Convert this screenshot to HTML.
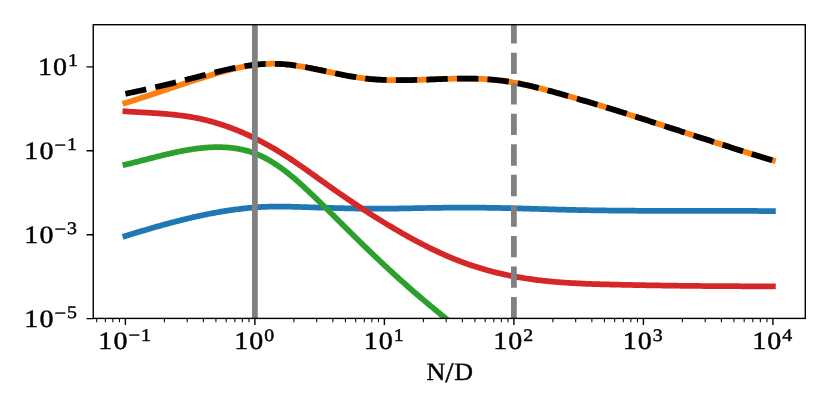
<!DOCTYPE html>
<html><head><meta charset="utf-8"><title>plot</title>
<style>html,body{margin:0;padding:0;background:#fff}svg{display:block}</style></head>
<body>
<svg width="830" height="415" viewBox="0 0 830 415">
<rect width="830" height="415" fill="#fff"/>
<defs><clipPath id="ax"><rect x="93.25" y="24.7" width="712.05" height="293.7"/></clipPath></defs>
<g clip-path="url(#ax)" fill="none" stroke-linejoin="round">
<path d="M125.40,236.08 L127.02,235.58 L128.65,235.07 L130.27,234.57 L131.89,234.07 L133.51,233.57 L135.14,233.08 L136.76,232.58 L138.38,232.09 L140.01,231.60 L141.63,231.11 L143.25,230.63 L144.87,230.15 L146.50,229.67 L148.12,229.19 L149.74,228.71 L151.36,228.24 L152.99,227.77 L154.61,227.30 L156.23,226.84 L157.86,226.38 L159.48,225.92 L161.10,225.47 L162.72,225.01 L164.35,224.57 L165.97,224.12 L167.59,223.68 L169.22,223.24 L170.84,222.81 L172.46,222.38 L174.08,221.95 L175.71,221.53 L177.33,221.11 L178.95,220.70 L180.58,220.29 L182.20,219.89 L183.82,219.48 L185.44,219.09 L187.07,218.70 L188.69,218.31 L190.31,217.93 L191.94,217.55 L193.56,217.17 L195.18,216.81 L196.80,216.44 L198.43,216.09 L200.05,215.73 L201.67,215.38 L203.29,215.04 L204.92,214.71 L206.54,214.37 L208.16,214.05 L209.79,213.73 L211.41,213.41 L213.03,213.10 L214.65,212.80 L216.28,212.51 L217.90,212.22 L219.52,211.93 L221.15,211.65 L222.77,211.38 L224.39,211.12 L226.01,210.86 L227.64,210.60 L229.26,210.36 L230.88,210.12 L232.51,209.89 L234.13,209.66 L235.75,209.45 L237.37,209.23 L239.00,209.03 L240.62,208.83 L242.24,208.65 L243.86,208.46 L245.49,208.29 L247.11,208.12 L248.73,207.97 L250.36,207.82 L251.98,207.67 L253.60,207.54 L255.22,207.41 L256.85,207.29 L258.47,207.18 L260.09,207.08 L261.72,206.99 L263.34,206.91 L264.96,206.83 L266.58,206.76 L268.21,206.71 L269.83,206.66 L271.45,206.62 L273.08,206.58 L274.70,206.56 L276.32,206.55 L277.94,206.54 L279.57,206.54 L281.19,206.55 L282.81,206.57 L284.44,206.59 L286.06,206.61 L287.68,206.64 L289.30,206.68 L290.93,206.72 L292.55,206.76 L294.17,206.80 L295.79,206.85 L297.42,206.90 L299.04,206.95 L300.66,207.00 L302.29,207.05 L303.91,207.10 L305.53,207.15 L307.15,207.20 L308.78,207.25 L310.40,207.30 L312.02,207.35 L313.65,207.40 L315.27,207.46 L316.89,207.51 L318.51,207.56 L320.14,207.61 L321.76,207.66 L323.38,207.71 L325.01,207.75 L326.63,207.80 L328.25,207.85 L329.87,207.90 L331.50,207.94 L333.12,207.99 L334.74,208.03 L336.36,208.08 L337.99,208.12 L339.61,208.16 L341.23,208.20 L342.86,208.24 L344.48,208.28 L346.10,208.32 L347.72,208.35 L349.35,208.39 L350.97,208.42 L352.59,208.45 L354.22,208.48 L355.84,208.51 L357.46,208.54 L359.08,208.56 L360.71,208.58 L362.33,208.60 L363.95,208.62 L365.58,208.64 L367.20,208.66 L368.82,208.67 L370.44,208.68 L372.07,208.69 L373.69,208.69 L375.31,208.70 L376.94,208.70 L378.56,208.70 L380.18,208.70 L381.80,208.69 L383.43,208.68 L385.05,208.67 L386.67,208.66 L388.29,208.64 L389.92,208.63 L391.54,208.61 L393.16,208.59 L394.79,208.57 L396.41,208.54 L398.03,208.52 L399.65,208.49 L401.28,208.46 L402.90,208.44 L404.52,208.41 L406.15,208.38 L407.77,208.35 L409.39,208.31 L411.01,208.28 L412.64,208.25 L414.26,208.22 L415.88,208.19 L417.51,208.15 L419.13,208.12 L420.75,208.09 L422.37,208.06 L424.00,208.03 L425.62,208.00 L427.24,207.97 L428.86,207.94 L430.49,207.92 L432.11,207.89 L433.73,207.86 L435.36,207.84 L436.98,207.82 L438.60,207.80 L440.22,207.78 L441.85,207.76 L443.47,207.74 L445.09,207.72 L446.72,207.71 L448.34,207.69 L449.96,207.68 L451.58,207.67 L453.21,207.66 L454.83,207.65 L456.45,207.64 L458.08,207.63 L459.70,207.63 L461.32,207.63 L462.94,207.62 L464.57,207.62 L466.19,207.62 L467.81,207.62 L469.44,207.63 L471.06,207.63 L472.68,207.64 L474.30,207.65 L475.93,207.65 L477.55,207.66 L479.17,207.68 L480.79,207.69 L482.42,207.71 L484.04,207.72 L485.66,207.74 L487.29,207.76 L488.91,207.78 L490.53,207.80 L492.15,207.83 L493.78,207.85 L495.40,207.88 L497.02,207.91 L498.65,207.94 L500.27,207.97 L501.89,208.01 L503.51,208.04 L505.14,208.08 L506.76,208.11 L508.38,208.15 L510.01,208.19 L511.63,208.23 L513.25,208.27 L514.87,208.31 L516.50,208.35 L518.12,208.40 L519.74,208.44 L521.36,208.48 L522.99,208.53 L524.61,208.57 L526.23,208.62 L527.86,208.67 L529.48,208.71 L531.10,208.76 L532.72,208.81 L534.35,208.86 L535.97,208.90 L537.59,208.95 L539.22,209.00 L540.84,209.05 L542.46,209.09 L544.08,209.14 L545.71,209.19 L547.33,209.24 L548.95,209.28 L550.58,209.33 L552.20,209.38 L553.82,209.42 L555.44,209.47 L557.07,209.52 L558.69,209.56 L560.31,209.60 L561.94,209.65 L563.56,209.69 L565.18,209.73 L566.80,209.77 L568.43,209.81 L570.05,209.85 L571.67,209.89 L573.29,209.93 L574.92,209.96 L576.54,210.00 L578.16,210.03 L579.79,210.07 L581.41,210.10 L583.03,210.13 L584.65,210.16 L586.28,210.19 L587.90,210.22 L589.52,210.25 L591.15,210.28 L592.77,210.30 L594.39,210.33 L596.01,210.35 L597.64,210.38 L599.26,210.40 L600.88,210.42 L602.51,210.44 L604.13,210.46 L605.75,210.49 L607.37,210.50 L609.00,210.52 L610.62,210.54 L612.24,210.56 L613.86,210.58 L615.49,210.59 L617.11,210.61 L618.73,210.62 L620.36,210.64 L621.98,210.65 L623.60,210.67 L625.22,210.68 L626.85,210.69 L628.47,210.70 L630.09,210.71 L631.72,210.72 L633.34,210.73 L634.96,210.74 L636.58,210.75 L638.21,210.76 L639.83,210.77 L641.45,210.78 L643.08,210.78 L644.70,210.79 L646.32,210.80 L647.94,210.80 L649.57,210.81 L651.19,210.81 L652.81,210.82 L654.44,210.82 L656.06,210.83 L657.68,210.83 L659.30,210.84 L660.93,210.84 L662.55,210.84 L664.17,210.85 L665.79,210.85 L667.42,210.85 L669.04,210.85 L670.66,210.85 L672.29,210.86 L673.91,210.86 L675.53,210.86 L677.15,210.86 L678.78,210.86 L680.40,210.86 L682.02,210.86 L683.65,210.86 L685.27,210.86 L686.89,210.86 L688.51,210.87 L690.14,210.87 L691.76,210.87 L693.38,210.87 L695.01,210.87 L696.63,210.87 L698.25,210.87 L699.87,210.87 L701.50,210.87 L703.12,210.87 L704.74,210.87 L706.36,210.87 L707.99,210.87 L709.61,210.87 L711.23,210.87 L712.86,210.87 L714.48,210.87 L716.10,210.87 L717.72,210.88 L719.35,210.88 L720.97,210.88 L722.59,210.88 L724.22,210.88 L725.84,210.88 L727.46,210.89 L729.08,210.89 L730.71,210.89 L732.33,210.90 L733.95,210.90 L735.58,210.90 L737.20,210.91 L738.82,210.91 L740.44,210.92 L742.07,210.92 L743.69,210.93 L745.31,210.93 L746.94,210.94 L748.56,210.95 L750.18,210.95 L751.80,210.96 L753.43,210.97 L755.05,210.98 L756.67,210.99 L758.29,211.00 L759.92,211.01 L761.54,211.02 L763.16,211.03 L764.79,211.04 L766.41,211.05 L768.03,211.06 L769.65,211.08 L771.28,211.09 L772.90,211.10" stroke="#1f77b4" stroke-width="5.75" stroke-linecap="square"/>
<path d="M125.40,102.96 L127.02,102.46 L128.65,101.95 L130.27,101.45 L131.89,100.94 L133.51,100.43 L135.14,99.91 L136.76,99.39 L138.38,98.87 L140.01,98.34 L141.63,97.82 L143.25,97.29 L144.87,96.76 L146.50,96.22 L148.12,95.69 L149.74,95.15 L151.36,94.61 L152.99,94.07 L154.61,93.53 L156.23,92.99 L157.86,92.44 L159.48,91.90 L161.10,91.36 L162.72,90.81 L164.35,90.26 L165.97,89.72 L167.59,89.17 L169.22,88.62 L170.84,88.08 L172.46,87.53 L174.08,86.99 L175.71,86.44 L177.33,85.90 L178.95,85.36 L180.58,84.82 L182.20,84.28 L183.82,83.74 L185.44,83.20 L187.07,82.66 L188.69,82.13 L190.31,81.60 L191.94,81.07 L193.56,80.54 L195.18,80.02 L196.80,79.50 L198.43,78.98 L200.05,78.46 L201.67,77.95 L203.29,77.44 L204.92,76.93 L206.54,76.43 L208.16,75.93 L209.79,75.44 L211.41,74.95 L213.03,74.46 L214.65,73.98 L216.28,73.50 L217.90,73.03 L219.52,72.57 L221.15,72.11 L222.77,71.66 L224.39,71.21 L226.01,70.78 L227.64,70.35 L229.26,69.94 L230.88,69.53 L232.51,69.13 L234.13,68.74 L235.75,68.37 L237.37,68.00 L239.00,67.65 L240.62,67.31 L242.24,66.98 L243.86,66.66 L245.49,66.36 L247.11,66.07 L248.73,65.80 L250.36,65.54 L251.98,65.29 L253.60,65.07 L255.22,64.86 L256.85,64.66 L258.47,64.48 L260.09,64.32 L261.72,64.18 L263.34,64.06 L264.96,63.95 L266.58,63.87 L268.21,63.80 L269.83,63.76 L271.45,63.73 L273.08,63.73 L274.70,63.75 L276.32,63.78 L277.94,63.84 L279.57,63.92 L281.19,64.01 L282.81,64.12 L284.44,64.25 L286.06,64.39 L287.68,64.55 L289.30,64.73 L290.93,64.92 L292.55,65.12 L294.17,65.33 L295.79,65.56 L297.42,65.80 L299.04,66.05 L300.66,66.32 L302.29,66.59 L303.91,66.87 L305.53,67.16 L307.15,67.46 L308.78,67.77 L310.40,68.08 L312.02,68.40 L313.65,68.73 L315.27,69.06 L316.89,69.39 L318.51,69.73 L320.14,70.08 L321.76,70.42 L323.38,70.77 L325.01,71.12 L326.63,71.47 L328.25,71.82 L329.87,72.17 L331.50,72.52 L333.12,72.86 L334.74,73.21 L336.36,73.55 L337.99,73.89 L339.61,74.22 L341.23,74.55 L342.86,74.88 L344.48,75.20 L346.10,75.51 L347.72,75.81 L349.35,76.11 L350.97,76.40 L352.59,76.68 L354.22,76.95 L355.84,77.21 L357.46,77.46 L359.08,77.70 L360.71,77.93 L362.33,78.14 L363.95,78.34 L365.58,78.53 L367.20,78.71 L368.82,78.87 L370.44,79.03 L372.07,79.17 L373.69,79.30 L375.31,79.42 L376.94,79.54 L378.56,79.64 L380.18,79.73 L381.80,79.81 L383.43,79.89 L385.05,79.95 L386.67,80.01 L388.29,80.06 L389.92,80.10 L391.54,80.14 L393.16,80.16 L394.79,80.18 L396.41,80.20 L398.03,80.20 L399.65,80.20 L401.28,80.20 L402.90,80.19 L404.52,80.17 L406.15,80.15 L407.77,80.13 L409.39,80.10 L411.01,80.06 L412.64,80.03 L414.26,79.98 L415.88,79.94 L417.51,79.89 L419.13,79.84 L420.75,79.79 L422.37,79.74 L424.00,79.68 L425.62,79.62 L427.24,79.57 L428.86,79.51 L430.49,79.45 L432.11,79.39 L433.73,79.33 L435.36,79.27 L436.98,79.21 L438.60,79.15 L440.22,79.09 L441.85,79.04 L443.47,78.98 L445.09,78.93 L446.72,78.88 L448.34,78.83 L449.96,78.79 L451.58,78.75 L453.21,78.71 L454.83,78.68 L456.45,78.65 L458.08,78.63 L459.70,78.61 L461.32,78.59 L462.94,78.58 L464.57,78.58 L466.19,78.58 L467.81,78.59 L469.44,78.60 L471.06,78.62 L472.68,78.65 L474.30,78.69 L475.93,78.73 L477.55,78.78 L479.17,78.84 L480.79,78.91 L482.42,78.99 L484.04,79.07 L485.66,79.17 L487.29,79.28 L488.91,79.39 L490.53,79.52 L492.15,79.65 L493.78,79.80 L495.40,79.96 L497.02,80.13 L498.65,80.31 L500.27,80.50 L501.89,80.71 L503.51,80.93 L505.14,81.16 L506.76,81.40 L508.38,81.65 L510.01,81.91 L511.63,82.18 L513.25,82.46 L514.87,82.76 L516.50,83.06 L518.12,83.37 L519.74,83.69 L521.36,84.02 L522.99,84.36 L524.61,84.70 L526.23,85.06 L527.86,85.42 L529.48,85.79 L531.10,86.16 L532.72,86.55 L534.35,86.94 L535.97,87.33 L537.59,87.73 L539.22,88.14 L540.84,88.55 L542.46,88.97 L544.08,89.39 L545.71,89.82 L547.33,90.25 L548.95,90.69 L550.58,91.13 L552.20,91.57 L553.82,92.02 L555.44,92.47 L557.07,92.92 L558.69,93.37 L560.31,93.83 L561.94,94.29 L563.56,94.75 L565.18,95.21 L566.80,95.67 L568.43,96.14 L570.05,96.60 L571.67,97.07 L573.29,97.54 L574.92,98.02 L576.54,98.49 L578.16,98.96 L579.79,99.44 L581.41,99.92 L583.03,100.40 L584.65,100.88 L586.28,101.37 L587.90,101.85 L589.52,102.34 L591.15,102.82 L592.77,103.31 L594.39,103.80 L596.01,104.30 L597.64,104.79 L599.26,105.28 L600.88,105.78 L602.51,106.28 L604.13,106.77 L605.75,107.27 L607.37,107.77 L609.00,108.28 L610.62,108.78 L612.24,109.28 L613.86,109.79 L615.49,110.29 L617.11,110.80 L618.73,111.31 L620.36,111.82 L621.98,112.33 L623.60,112.84 L625.22,113.35 L626.85,113.86 L628.47,114.38 L630.09,114.89 L631.72,115.41 L633.34,115.92 L634.96,116.44 L636.58,116.96 L638.21,117.48 L639.83,117.99 L641.45,118.51 L643.08,119.03 L644.70,119.55 L646.32,120.08 L647.94,120.60 L649.57,121.12 L651.19,121.64 L652.81,122.17 L654.44,122.69 L656.06,123.22 L657.68,123.74 L659.30,124.27 L660.93,124.79 L662.55,125.32 L664.17,125.84 L665.79,126.37 L667.42,126.90 L669.04,127.42 L670.66,127.95 L672.29,128.48 L673.91,129.00 L675.53,129.53 L677.15,130.06 L678.78,130.59 L680.40,131.12 L682.02,131.64 L683.65,132.17 L685.27,132.70 L686.89,133.23 L688.51,133.76 L690.14,134.28 L691.76,134.81 L693.38,135.34 L695.01,135.87 L696.63,136.39 L698.25,136.92 L699.87,137.45 L701.50,137.97 L703.12,138.50 L704.74,139.02 L706.36,139.55 L707.99,140.07 L709.61,140.60 L711.23,141.12 L712.86,141.65 L714.48,142.17 L716.10,142.69 L717.72,143.22 L719.35,143.74 L720.97,144.26 L722.59,144.78 L724.22,145.30 L725.84,145.82 L727.46,146.34 L729.08,146.86 L730.71,147.37 L732.33,147.89 L733.95,148.41 L735.58,148.92 L737.20,149.44 L738.82,149.95 L740.44,150.46 L742.07,150.97 L743.69,151.49 L745.31,152.00 L746.94,152.50 L748.56,153.01 L750.18,153.52 L751.80,154.03 L753.43,154.53 L755.05,155.03 L756.67,155.54 L758.29,156.04 L759.92,156.54 L761.54,157.04 L763.16,157.54 L764.79,158.03 L766.41,158.53 L768.03,159.02 L769.65,159.52 L771.28,160.01 L772.90,160.50" stroke="#ff7f0e" stroke-width="5.75" stroke-linecap="square"/>
<path d="M125.40,164.61 L126.26,164.41 L127.13,164.20 L127.99,164.00 L128.85,163.79 L129.72,163.59 L130.58,163.38 L131.45,163.17 L132.31,162.96 L133.17,162.74 L134.04,162.53 L134.90,162.32 L135.76,162.10 L136.63,161.88 L137.49,161.67 L138.35,161.45 L139.22,161.23 L140.08,161.01 L140.95,160.79 L141.81,160.57 L142.67,160.35 L143.54,160.13 L144.40,159.91 L145.26,159.69 L146.13,159.47 L146.99,159.25 L147.86,159.03 L148.72,158.80 L149.58,158.58 L150.45,158.36 L151.31,158.14 L152.17,157.92 L153.04,157.70 L153.90,157.48 L154.76,157.26 L155.63,157.05 L156.49,156.83 L157.36,156.61 L158.22,156.40 L159.08,156.18 L159.95,155.97 L160.81,155.75 L161.67,155.54 L162.54,155.33 L163.40,155.12 L164.26,154.91 L165.13,154.70 L165.99,154.50 L166.86,154.29 L167.72,154.09 L168.58,153.89 L169.45,153.69 L170.31,153.49 L171.17,153.30 L172.04,153.10 L172.90,152.91 L173.76,152.72 L174.63,152.53 L175.49,152.34 L176.36,152.16 L177.22,151.98 L178.08,151.80 L178.95,151.62 L179.81,151.45 L180.67,151.27 L181.54,151.10 L182.40,150.94 L183.27,150.77 L184.13,150.61 L184.99,150.45 L185.86,150.30 L186.72,150.14 L187.58,149.99 L188.45,149.85 L189.31,149.70 L190.17,149.56 L191.04,149.42 L191.90,149.29 L192.77,149.16 L193.63,149.03 L194.49,148.91 L195.36,148.79 L196.22,148.67 L197.08,148.56 L197.95,148.45 L198.81,148.35 L199.67,148.25 L200.54,148.15 L201.40,148.06 L202.27,147.97 L203.13,147.88 L203.99,147.80 L204.86,147.73 L205.72,147.66 L206.58,147.59 L207.45,147.53 L208.31,147.47 L209.17,147.42 L210.04,147.37 L210.90,147.32 L211.77,147.28 L212.63,147.25 L213.49,147.22 L214.36,147.20 L215.22,147.18 L216.08,147.17 L216.95,147.16 L217.81,147.15 L218.68,147.16 L219.54,147.16 L220.40,147.18 L221.27,147.20 L222.13,147.22 L222.99,147.25 L223.86,147.29 L224.72,147.33 L225.58,147.38 L226.45,147.43 L227.31,147.49 L228.18,147.56 L229.04,147.63 L229.90,147.71 L230.77,147.79 L231.63,147.89 L232.49,147.99 L233.36,148.09 L234.22,148.21 L235.08,148.33 L235.95,148.46 L236.81,148.59 L237.68,148.74 L238.54,148.89 L239.40,149.05 L240.27,149.21 L241.13,149.39 L241.99,149.57 L242.86,149.76 L243.72,149.97 L244.58,150.18 L245.45,150.39 L246.31,150.62 L247.18,150.86 L248.04,151.10 L248.90,151.36 L249.77,151.62 L250.63,151.90 L251.49,152.18 L252.36,152.47 L253.22,152.78 L254.09,153.09 L254.95,153.42 L255.81,153.75 L256.68,154.10 L257.54,154.45 L258.40,154.82 L259.27,155.19 L260.13,155.58 L260.99,155.98 L261.86,156.39 L262.72,156.81 L263.59,157.24 L264.45,157.68 L265.31,158.13 L266.18,158.59 L267.04,159.06 L267.90,159.53 L268.77,160.02 L269.63,160.52 L270.49,161.03 L271.36,161.55 L272.22,162.08 L273.09,162.61 L273.95,163.16 L274.81,163.71 L275.68,164.28 L276.54,164.85 L277.40,165.43 L278.27,166.02 L279.13,166.62 L279.99,167.23 L280.86,167.84 L281.72,168.47 L282.59,169.10 L283.45,169.74 L284.31,170.39 L285.18,171.05 L286.04,171.71 L286.90,172.38 L287.77,173.06 L288.63,173.75 L289.50,174.45 L290.36,175.15 L291.22,175.86 L292.09,176.58 L292.95,177.30 L293.81,178.03 L294.68,178.77 L295.54,179.51 L296.40,180.26 L297.27,181.01 L298.13,181.78 L299.00,182.54 L299.86,183.31 L300.72,184.09 L301.59,184.87 L302.45,185.66 L303.31,186.45 L304.18,187.24 L305.04,188.04 L305.90,188.84 L306.77,189.64 L307.63,190.45 L308.50,191.26 L309.36,192.08 L310.22,192.90 L311.09,193.72 L311.95,194.54 L312.81,195.36 L313.68,196.19 L314.54,197.02 L315.41,197.85 L316.27,198.68 L317.13,199.52 L318.00,200.35 L318.86,201.19 L319.72,202.03 L320.59,202.88 L321.45,203.72 L322.31,204.56 L323.18,205.41 L324.04,206.26 L324.91,207.11 L325.77,207.96 L326.63,208.81 L327.50,209.66 L328.36,210.52 L329.22,211.37 L330.09,212.23 L330.95,213.08 L331.81,213.94 L332.68,214.80 L333.54,215.65 L334.41,216.51 L335.27,217.37 L336.13,218.23 L337.00,219.09 L337.86,219.95 L338.72,220.81 L339.59,221.67 L340.45,222.53 L341.31,223.39 L342.18,224.25 L343.04,225.11 L343.91,225.96 L344.77,226.82 L345.63,227.68 L346.50,228.54 L347.36,229.39 L348.22,230.25 L349.09,231.11 L349.95,231.96 L350.82,232.81 L351.68,233.67 L352.54,234.52 L353.41,235.37 L354.27,236.22 L355.13,237.07 L356.00,237.92 L356.86,238.76 L357.72,239.61 L358.59,240.46 L359.45,241.30 L360.32,242.14 L361.18,242.99 L362.04,243.83 L362.91,244.67 L363.77,245.51 L364.63,246.34 L365.50,247.18 L366.36,248.02 L367.22,248.85 L368.09,249.69 L368.95,250.52 L369.82,251.35 L370.68,252.18 L371.54,253.01 L372.41,253.84 L373.27,254.66 L374.13,255.49 L375.00,256.31 L375.86,257.13 L376.72,257.96 L377.59,258.78 L378.45,259.59 L379.32,260.41 L380.18,261.23 L381.04,262.04 L381.91,262.85 L382.77,263.67 L383.63,264.48 L384.50,265.28 L385.36,266.09 L386.23,266.90 L387.09,267.70 L387.95,268.50 L388.82,269.31 L389.68,270.11 L390.54,270.90 L391.41,271.70 L392.27,272.49 L393.13,273.29 L394.00,274.08 L394.86,274.87 L395.73,275.66 L396.59,276.44 L397.45,277.23 L398.32,278.01 L399.18,278.79 L400.04,279.57 L400.91,280.35 L401.77,281.13 L402.63,281.90 L403.50,282.67 L404.36,283.44 L405.23,284.21 L406.09,284.98 L406.95,285.75 L407.82,286.51 L408.68,287.27 L409.54,288.03 L410.41,288.79 L411.27,289.54 L412.13,290.30 L413.00,291.05 L413.86,291.80 L414.73,292.54 L415.59,293.29 L416.45,294.03 L417.32,294.77 L418.18,295.51 L419.04,296.25 L419.91,296.99 L420.77,297.72 L421.64,298.45 L422.50,299.19 L423.36,299.91 L424.23,300.64 L425.09,301.37 L425.95,302.09 L426.82,302.82 L427.68,303.54 L428.54,304.26 L429.41,304.98 L430.27,305.69 L431.14,306.41 L432.00,307.13 L432.86,307.84 L433.73,308.55 L434.59,309.26 L435.45,309.97 L436.32,310.68 L437.18,311.39 L438.04,312.10 L438.91,312.80 L439.77,313.51 L440.64,314.21 L441.50,314.92 L442.36,315.62 L443.23,316.32 L444.09,317.03 L444.95,317.73 L445.82,318.43 L446.68,319.13 L447.54,319.83 L448.41,320.52 L449.27,321.22 L450.14,321.92 L451.00,322.62 L451.86,323.32 L452.73,324.01 L453.59,324.71 L454.45,325.41 L455.32,326.10 L456.18,326.80 L457.05,327.49 L457.91,328.19 L458.77,328.89 L459.64,329.58 L460.50,330.28 L461.36,330.97 L462.23,331.67 L463.09,332.37 L463.95,333.06 L464.82,333.76 L465.68,334.46 L466.55,335.15 L467.41,335.85 L468.27,336.55 L469.14,337.25 L470.00,337.95" stroke="#2ca02c" stroke-width="5.75" stroke-linecap="square"/>
<path d="M125.40,111.32 L127.02,111.44 L128.65,111.55 L130.27,111.65 L131.89,111.76 L133.51,111.86 L135.14,111.96 L136.76,112.06 L138.38,112.15 L140.01,112.25 L141.63,112.34 L143.25,112.44 L144.87,112.53 L146.50,112.63 L148.12,112.72 L149.74,112.82 L151.36,112.92 L152.99,113.02 L154.61,113.13 L156.23,113.23 L157.86,113.34 L159.48,113.46 L161.10,113.58 L162.72,113.70 L164.35,113.83 L165.97,113.96 L167.59,114.10 L169.22,114.25 L170.84,114.40 L172.46,114.56 L174.08,114.73 L175.71,114.90 L177.33,115.09 L178.95,115.28 L180.58,115.48 L182.20,115.69 L183.82,115.91 L185.44,116.15 L187.07,116.39 L188.69,116.64 L190.31,116.91 L191.94,117.18 L193.56,117.47 L195.18,117.77 L196.80,118.09 L198.43,118.42 L200.05,118.76 L201.67,119.12 L203.29,119.49 L204.92,119.87 L206.54,120.27 L208.16,120.68 L209.79,121.11 L211.41,121.55 L213.03,122.00 L214.65,122.46 L216.28,122.94 L217.90,123.44 L219.52,123.95 L221.15,124.47 L222.77,125.00 L224.39,125.55 L226.01,126.11 L227.64,126.68 L229.26,127.27 L230.88,127.87 L232.51,128.49 L234.13,129.11 L235.75,129.76 L237.37,130.41 L239.00,131.08 L240.62,131.76 L242.24,132.45 L243.86,133.16 L245.49,133.88 L247.11,134.61 L248.73,135.36 L250.36,136.12 L251.98,136.89 L253.60,137.67 L255.22,138.47 L256.85,139.28 L258.47,140.11 L260.09,140.94 L261.72,141.79 L263.34,142.66 L264.96,143.53 L266.58,144.42 L268.21,145.32 L269.83,146.23 L271.45,147.16 L273.08,148.10 L274.70,149.05 L276.32,150.01 L277.94,150.99 L279.57,151.97 L281.19,152.98 L282.81,153.99 L284.44,155.01 L286.06,156.05 L287.68,157.10 L289.30,158.16 L290.93,159.24 L292.55,160.32 L294.17,161.41 L295.79,162.51 L297.42,163.62 L299.04,164.74 L300.66,165.86 L302.29,166.99 L303.91,168.13 L305.53,169.27 L307.15,170.42 L308.78,171.57 L310.40,172.73 L312.02,173.89 L313.65,175.05 L315.27,176.21 L316.89,177.38 L318.51,178.54 L320.14,179.70 L321.76,180.87 L323.38,182.03 L325.01,183.19 L326.63,184.35 L328.25,185.51 L329.87,186.66 L331.50,187.81 L333.12,188.95 L334.74,190.09 L336.36,191.23 L337.99,192.36 L339.61,193.49 L341.23,194.61 L342.86,195.73 L344.48,196.84 L346.10,197.95 L347.72,199.06 L349.35,200.16 L350.97,201.25 L352.59,202.35 L354.22,203.43 L355.84,204.51 L357.46,205.59 L359.08,206.66 L360.71,207.73 L362.33,208.79 L363.95,209.85 L365.58,210.90 L367.20,211.95 L368.82,212.99 L370.44,214.03 L372.07,215.06 L373.69,216.09 L375.31,217.11 L376.94,218.12 L378.56,219.13 L380.18,220.14 L381.80,221.14 L383.43,222.13 L385.05,223.12 L386.67,224.11 L388.29,225.09 L389.92,226.06 L391.54,227.03 L393.16,227.99 L394.79,228.94 L396.41,229.89 L398.03,230.84 L399.65,231.77 L401.28,232.71 L402.90,233.63 L404.52,234.55 L406.15,235.47 L407.77,236.37 L409.39,237.27 L411.01,238.17 L412.64,239.05 L414.26,239.93 L415.88,240.80 L417.51,241.67 L419.13,242.52 L420.75,243.37 L422.37,244.22 L424.00,245.05 L425.62,245.87 L427.24,246.69 L428.86,247.50 L430.49,248.30 L432.11,249.10 L433.73,249.88 L435.36,250.65 L436.98,251.42 L438.60,252.18 L440.22,252.93 L441.85,253.66 L443.47,254.39 L445.09,255.11 L446.72,255.82 L448.34,256.52 L449.96,257.21 L451.58,257.89 L453.21,258.56 L454.83,259.22 L456.45,259.87 L458.08,260.51 L459.70,261.14 L461.32,261.76 L462.94,262.36 L464.57,262.96 L466.19,263.54 L467.81,264.12 L469.44,264.68 L471.06,265.23 L472.68,265.78 L474.30,266.31 L475.93,266.83 L477.55,267.34 L479.17,267.85 L480.79,268.34 L482.42,268.82 L484.04,269.29 L485.66,269.76 L487.29,270.21 L488.91,270.66 L490.53,271.09 L492.15,271.52 L493.78,271.93 L495.40,272.34 L497.02,272.74 L498.65,273.13 L500.27,273.51 L501.89,273.88 L503.51,274.24 L505.14,274.60 L506.76,274.95 L508.38,275.28 L510.01,275.61 L511.63,275.94 L513.25,276.25 L514.87,276.55 L516.50,276.85 L518.12,277.14 L519.74,277.42 L521.36,277.70 L522.99,277.96 L524.61,278.22 L526.23,278.47 L527.86,278.72 L529.48,278.96 L531.10,279.19 L532.72,279.41 L534.35,279.63 L535.97,279.84 L537.59,280.04 L539.22,280.24 L540.84,280.43 L542.46,280.62 L544.08,280.80 L545.71,280.97 L547.33,281.14 L548.95,281.30 L550.58,281.46 L552.20,281.61 L553.82,281.76 L555.44,281.90 L557.07,282.04 L558.69,282.17 L560.31,282.29 L561.94,282.42 L563.56,282.53 L565.18,282.65 L566.80,282.75 L568.43,282.86 L570.05,282.96 L571.67,283.06 L573.29,283.15 L574.92,283.24 L576.54,283.32 L578.16,283.41 L579.79,283.49 L581.41,283.56 L583.03,283.64 L584.65,283.71 L586.28,283.77 L587.90,283.84 L589.52,283.90 L591.15,283.96 L592.77,284.01 L594.39,284.07 L596.01,284.12 L597.64,284.17 L599.26,284.22 L600.88,284.27 L602.51,284.32 L604.13,284.36 L605.75,284.40 L607.37,284.44 L609.00,284.48 L610.62,284.52 L612.24,284.56 L613.86,284.60 L615.49,284.64 L617.11,284.67 L618.73,284.71 L620.36,284.75 L621.98,284.78 L623.60,284.82 L625.22,284.85 L626.85,284.89 L628.47,284.92 L630.09,284.95 L631.72,284.99 L633.34,285.02 L634.96,285.05 L636.58,285.08 L638.21,285.11 L639.83,285.14 L641.45,285.17 L643.08,285.20 L644.70,285.23 L646.32,285.26 L647.94,285.29 L649.57,285.32 L651.19,285.35 L652.81,285.37 L654.44,285.40 L656.06,285.43 L657.68,285.45 L659.30,285.48 L660.93,285.50 L662.55,285.53 L664.17,285.55 L665.79,285.58 L667.42,285.60 L669.04,285.62 L670.66,285.65 L672.29,285.67 L673.91,285.69 L675.53,285.71 L677.15,285.73 L678.78,285.75 L680.40,285.78 L682.02,285.79 L683.65,285.81 L685.27,285.83 L686.89,285.85 L688.51,285.87 L690.14,285.89 L691.76,285.91 L693.38,285.92 L695.01,285.94 L696.63,285.96 L698.25,285.97 L699.87,285.99 L701.50,286.00 L703.12,286.02 L704.74,286.03 L706.36,286.05 L707.99,286.06 L709.61,286.07 L711.23,286.09 L712.86,286.10 L714.48,286.11 L716.10,286.12 L717.72,286.13 L719.35,286.14 L720.97,286.15 L722.59,286.16 L724.22,286.17 L725.84,286.18 L727.46,286.19 L729.08,286.20 L730.71,286.21 L732.33,286.22 L733.95,286.22 L735.58,286.23 L737.20,286.24 L738.82,286.24 L740.44,286.25 L742.07,286.26 L743.69,286.26 L745.31,286.26 L746.94,286.27 L748.56,286.27 L750.18,286.28 L751.80,286.28 L753.43,286.28 L755.05,286.29 L756.67,286.29 L758.29,286.29 L759.92,286.29 L761.54,286.29 L763.16,286.29 L764.79,286.29 L766.41,286.29 L768.03,286.29 L769.65,286.29 L771.28,286.29 L772.90,286.29" stroke="#d62728" stroke-width="5.75" stroke-linecap="square"/>
<path d="M125.40,93.82 L127.02,93.48 L128.65,93.14 L130.27,92.80 L131.89,92.45 L133.51,92.11 L135.14,91.76 L136.76,91.41 L138.38,91.06 L140.01,90.70 L141.63,90.34 L143.25,89.99 L144.87,89.62 L146.50,89.26 L148.12,88.90 L149.74,88.53 L151.36,88.16 L152.99,87.79 L154.61,87.42 L156.23,87.04 L157.86,86.66 L159.48,86.28 L161.10,85.90 L162.72,85.52 L164.35,85.14 L165.97,84.75 L167.59,84.36 L169.22,83.97 L170.84,83.58 L172.46,83.18 L174.08,82.79 L175.71,82.39 L177.33,81.99 L178.95,81.58 L180.58,81.18 L182.20,80.77 L183.82,80.37 L185.44,79.96 L187.07,79.55 L188.69,79.13 L190.31,78.72 L191.94,78.30 L193.56,77.89 L195.18,77.47 L196.80,77.06 L198.43,76.64 L200.05,76.22 L201.67,75.81 L203.29,75.39 L204.92,74.98 L206.54,74.57 L208.16,74.16 L209.79,73.75 L211.41,73.34 L213.03,72.93 L214.65,72.53 L216.28,72.13 L217.90,71.74 L219.52,71.34 L221.15,70.96 L222.77,70.57 L224.39,70.20 L226.01,69.82 L227.64,69.46 L229.26,69.10 L230.88,68.75 L232.51,68.41 L234.13,68.07 L235.75,67.74 L237.37,67.43 L239.00,67.12 L240.62,66.82 L242.24,66.54 L243.86,66.26 L245.49,66.00 L247.11,65.75 L248.73,65.51 L250.36,65.29 L251.98,65.08 L253.60,64.88 L255.22,64.70 L256.85,64.53 L258.47,64.38 L260.09,64.24 L261.72,64.12 L263.34,64.02 L264.96,63.93 L266.58,63.86 L268.21,63.81 L269.83,63.77 L271.45,63.76 L273.08,63.76 L274.70,63.78 L276.32,63.78 L277.94,63.84 L279.57,63.92 L281.19,64.01 L282.81,64.12 L284.44,64.25 L286.06,64.39 L287.68,64.55 L289.30,64.73 L290.93,64.92 L292.55,65.12 L294.17,65.33 L295.79,65.56 L297.42,65.80 L299.04,66.05 L300.66,66.32 L302.29,66.59 L303.91,66.87 L305.53,67.16 L307.15,67.46 L308.78,67.77 L310.40,68.08 L312.02,68.40 L313.65,68.73 L315.27,69.06 L316.89,69.39 L318.51,69.73 L320.14,70.08 L321.76,70.42 L323.38,70.77 L325.01,71.12 L326.63,71.47 L328.25,71.82 L329.87,72.17 L331.50,72.52 L333.12,72.86 L334.74,73.21 L336.36,73.55 L337.99,73.89 L339.61,74.22 L341.23,74.55 L342.86,74.88 L344.48,75.20 L346.10,75.51 L347.72,75.81 L349.35,76.11 L350.97,76.40 L352.59,76.68 L354.22,76.95 L355.84,77.21 L357.46,77.46 L359.08,77.70 L360.71,77.93 L362.33,78.14 L363.95,78.34 L365.58,78.53 L367.20,78.71 L368.82,78.87 L370.44,79.03 L372.07,79.17 L373.69,79.30 L375.31,79.42 L376.94,79.54 L378.56,79.64 L380.18,79.73 L381.80,79.81 L383.43,79.89 L385.05,79.95 L386.67,80.01 L388.29,80.06 L389.92,80.10 L391.54,80.14 L393.16,80.16 L394.79,80.18 L396.41,80.20 L398.03,80.20 L399.65,80.20 L401.28,80.20 L402.90,80.19 L404.52,80.17 L406.15,80.15 L407.77,80.13 L409.39,80.10 L411.01,80.06 L412.64,80.03 L414.26,79.98 L415.88,79.94 L417.51,79.89 L419.13,79.84 L420.75,79.79 L422.37,79.74 L424.00,79.68 L425.62,79.62 L427.24,79.57 L428.86,79.51 L430.49,79.45 L432.11,79.39 L433.73,79.33 L435.36,79.27 L436.98,79.21 L438.60,79.15 L440.22,79.09 L441.85,79.04 L443.47,78.98 L445.09,78.93 L446.72,78.88 L448.34,78.83 L449.96,78.79 L451.58,78.75 L453.21,78.71 L454.83,78.68 L456.45,78.65 L458.08,78.63 L459.70,78.61 L461.32,78.59 L462.94,78.58 L464.57,78.58 L466.19,78.58 L467.81,78.59 L469.44,78.60 L471.06,78.62 L472.68,78.65 L474.30,78.69 L475.93,78.73 L477.55,78.78 L479.17,78.84 L480.79,78.91 L482.42,78.99 L484.04,79.07 L485.66,79.17 L487.29,79.28 L488.91,79.39 L490.53,79.52 L492.15,79.65 L493.78,79.80 L495.40,79.96 L497.02,80.13 L498.65,80.31 L500.27,80.50 L501.89,80.71 L503.51,80.93 L505.14,81.16 L506.76,81.40 L508.38,81.65 L510.01,81.91 L511.63,82.18 L513.25,82.46 L514.87,82.76 L516.50,83.06 L518.12,83.37 L519.74,83.69 L521.36,84.02 L522.99,84.36 L524.61,84.70 L526.23,85.06 L527.86,85.42 L529.48,85.79 L531.10,86.16 L532.72,86.55 L534.35,86.94 L535.97,87.33 L537.59,87.73 L539.22,88.14 L540.84,88.55 L542.46,88.97 L544.08,89.39 L545.71,89.82 L547.33,90.25 L548.95,90.69 L550.58,91.13 L552.20,91.57 L553.82,92.02 L555.44,92.47 L557.07,92.92 L558.69,93.37 L560.31,93.83 L561.94,94.29 L563.56,94.75 L565.18,95.21 L566.80,95.67 L568.43,96.14 L570.05,96.60 L571.67,97.07 L573.29,97.54 L574.92,98.02 L576.54,98.49 L578.16,98.96 L579.79,99.44 L581.41,99.92 L583.03,100.40 L584.65,100.88 L586.28,101.37 L587.90,101.85 L589.52,102.34 L591.15,102.82 L592.77,103.31 L594.39,103.80 L596.01,104.30 L597.64,104.79 L599.26,105.28 L600.88,105.78 L602.51,106.28 L604.13,106.77 L605.75,107.27 L607.37,107.77 L609.00,108.28 L610.62,108.78 L612.24,109.28 L613.86,109.79 L615.49,110.29 L617.11,110.80 L618.73,111.31 L620.36,111.82 L621.98,112.33 L623.60,112.84 L625.22,113.35 L626.85,113.86 L628.47,114.38 L630.09,114.89 L631.72,115.41 L633.34,115.92 L634.96,116.44 L636.58,116.96 L638.21,117.48 L639.83,117.99 L641.45,118.51 L643.08,119.03 L644.70,119.55 L646.32,120.08 L647.94,120.60 L649.57,121.12 L651.19,121.64 L652.81,122.17 L654.44,122.69 L656.06,123.22 L657.68,123.74 L659.30,124.27 L660.93,124.79 L662.55,125.32 L664.17,125.84 L665.79,126.37 L667.42,126.90 L669.04,127.42 L670.66,127.95 L672.29,128.48 L673.91,129.00 L675.53,129.53 L677.15,130.06 L678.78,130.59 L680.40,131.12 L682.02,131.64 L683.65,132.17 L685.27,132.70 L686.89,133.23 L688.51,133.76 L690.14,134.28 L691.76,134.81 L693.38,135.34 L695.01,135.87 L696.63,136.39 L698.25,136.92 L699.87,137.45 L701.50,137.97 L703.12,138.50 L704.74,139.02 L706.36,139.55 L707.99,140.07 L709.61,140.60 L711.23,141.12 L712.86,141.65 L714.48,142.17 L716.10,142.69 L717.72,143.22 L719.35,143.74 L720.97,144.26 L722.59,144.78 L724.22,145.30 L725.84,145.82 L727.46,146.34 L729.08,146.86 L730.71,147.37 L732.33,147.89 L733.95,148.41 L735.58,148.92 L737.20,149.44 L738.82,149.95 L740.44,150.46 L742.07,150.97 L743.69,151.49 L745.31,152.00 L746.94,152.50 L748.56,153.01 L750.18,153.52 L751.80,154.03 L753.43,154.53 L755.05,155.03 L756.67,155.54 L758.29,156.04 L759.92,156.54 L761.54,157.04 L763.16,157.54 L764.79,158.03 L766.41,158.53 L768.03,159.02 L769.65,159.52 L771.28,160.01 L772.90,160.50" stroke="#000" stroke-width="5.75" stroke-dasharray="21.34 9.23"/>
<path d="M254.90,318.4 L254.90,24.7" stroke="#808080" stroke-width="5.75"/>
<path d="M513.90,318.4 L513.90,24.7" stroke="#808080" stroke-width="5.75" stroke-dasharray="21.33 9.22"/>
</g>
<rect x="93.25" y="24.7" width="712.05" height="293.7" fill="none" stroke="#000" stroke-width="1.4"/>
<path d="M125.40,318.4 v6.7 M254.90,318.4 v6.7 M384.40,318.4 v6.7 M513.90,318.4 v6.7 M643.40,318.4 v6.7 M772.90,318.4 v6.7 M93.25,318.60 h-6.7 M93.25,234.69 h-6.7 M93.25,150.77 h-6.7 M93.25,66.86 h-6.7" stroke="#000" stroke-width="1.4" fill="none"/>
<path d="M96.67,318.4 v3.8 M105.34,318.4 v3.8 M112.85,318.4 v3.8 M119.47,318.4 v3.8 M164.38,318.4 v3.8 M187.19,318.4 v3.8 M203.37,318.4 v3.8 M215.92,318.4 v3.8 M226.17,318.4 v3.8 M234.84,318.4 v3.8 M242.35,318.4 v3.8 M248.97,318.4 v3.8 M293.88,318.4 v3.8 M316.69,318.4 v3.8 M332.87,318.4 v3.8 M345.42,318.4 v3.8 M355.67,318.4 v3.8 M364.34,318.4 v3.8 M371.85,318.4 v3.8 M378.47,318.4 v3.8 M423.38,318.4 v3.8 M446.19,318.4 v3.8 M462.37,318.4 v3.8 M474.92,318.4 v3.8 M485.17,318.4 v3.8 M493.84,318.4 v3.8 M501.35,318.4 v3.8 M507.97,318.4 v3.8 M552.88,318.4 v3.8 M575.69,318.4 v3.8 M591.87,318.4 v3.8 M604.42,318.4 v3.8 M614.67,318.4 v3.8 M623.34,318.4 v3.8 M630.85,318.4 v3.8 M637.47,318.4 v3.8 M682.38,318.4 v3.8 M705.19,318.4 v3.8 M721.37,318.4 v3.8 M733.92,318.4 v3.8 M744.17,318.4 v3.8 M752.84,318.4 v3.8 M760.35,318.4 v3.8 M766.97,318.4 v3.8" stroke="#000" stroke-width="1.05" fill="none"/>
<g opacity="0.999" style="text-rendering:geometricPrecision" font-family="'Liberation Serif', serif" fill="#000" stroke="#000" stroke-width="0.45">
<g transform="translate(100.40,349.25) scale(1.12,1)"><text x="-1.9" y="0" font-size="25.0" letter-spacing="1.0">10</text><text x="25.00" y="-7.9" font-size="17.7" textLength="10.36" lengthAdjust="spacingAndGlyphs">−</text><text x="36.16" y="-8.7" font-size="17.7">1</text></g>
<g transform="translate(236.30,349.25) scale(1.12,1)"><text x="-1.9" y="0" font-size="25.0" letter-spacing="1.0">10</text><text x="25.00" y="-8.7" font-size="17.7">0</text></g>
<g transform="translate(365.80,349.25) scale(1.12,1)"><text x="-1.9" y="0" font-size="25.0" letter-spacing="1.0">10</text><text x="25.00" y="-8.7" font-size="17.7">1</text></g>
<g transform="translate(495.30,349.25) scale(1.12,1)"><text x="-1.9" y="0" font-size="25.0" letter-spacing="1.0">10</text><text x="25.00" y="-8.7" font-size="17.7">2</text></g>
<g transform="translate(624.80,349.25) scale(1.12,1)"><text x="-1.9" y="0" font-size="25.0" letter-spacing="1.0">10</text><text x="25.00" y="-8.7" font-size="17.7">3</text></g>
<g transform="translate(754.30,349.25) scale(1.12,1)"><text x="-1.9" y="0" font-size="25.0" letter-spacing="1.0">10</text><text x="25.00" y="-8.7" font-size="17.7">4</text></g>
<g transform="translate(26.40,326.65) scale(1.12,1)"><text x="-1.9" y="0" font-size="25.0" letter-spacing="1.0">10</text><text x="25.00" y="-7.9" font-size="17.7" textLength="10.36" lengthAdjust="spacingAndGlyphs">−</text><text x="36.16" y="-8.7" font-size="17.7">5</text></g>
<g transform="translate(26.40,242.74) scale(1.12,1)"><text x="-1.9" y="0" font-size="25.0" letter-spacing="1.0">10</text><text x="25.00" y="-7.9" font-size="17.7" textLength="10.36" lengthAdjust="spacingAndGlyphs">−</text><text x="36.16" y="-8.7" font-size="17.7">3</text></g>
<g transform="translate(26.40,158.82) scale(1.12,1)"><text x="-1.9" y="0" font-size="25.0" letter-spacing="1.0">10</text><text x="25.00" y="-7.9" font-size="17.7" textLength="10.36" lengthAdjust="spacingAndGlyphs">−</text><text x="36.16" y="-8.7" font-size="17.7">1</text></g>
<g transform="translate(40.00,74.91) scale(1.12,1)"><text x="-1.9" y="0" font-size="25.0" letter-spacing="1.0">10</text><text x="25.00" y="-8.7" font-size="17.7">1</text></g>
<text x="449.7" y="380.45" font-size="25.0" text-anchor="middle" transform="translate(449.7,0) scale(1.04,1) translate(-449.7,0)">N<tspan font-size="28.50" dy="1.25">/</tspan><tspan dy="-1.25" dx="0.7">D</tspan></text>
</g>
</svg>
</body></html>
